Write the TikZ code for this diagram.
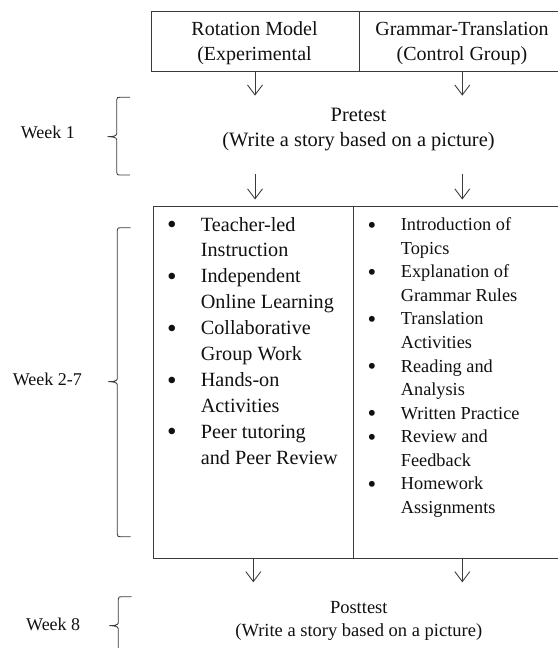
\documentclass[tikz,border=0pt]{standalone}
\usepackage{fontspec}
\setmainfont{Liberation Serif}
\usetikzlibrary{arrows.meta,calc}

\definecolor{linegray}{HTML}{3A3A3A}
\definecolor{inkblack}{HTML}{111111}

\tikzset{
  frame/.style={draw=linegray, line width=0.85pt, rectangle, inner sep=0pt},
  flowarrow/.style={draw=linegray, line width=0.85pt,
    -{Straight Barb[length=10pt,width=15pt,line width=0.85pt]}},
  bracepath/.style={draw=linegray, line width=0.85pt, line join=round, line cap=round},
  txt/.style={text=inkblack, inner sep=0pt},
  headtext/.style={txt, anchor=base, font=\fontsize{20}{24.3}\selectfont},
  testtext/.style={txt, anchor=base, font=\fontsize{20.4}{25}\selectfont},
  posttext/.style={txt, anchor=base, font=\fontsize{18.5}{23.4}\selectfont},
  leftlist/.style={txt, anchor=base west, font=\fontsize{20.2}{25.9}\selectfont},
  rightlist/.style={txt, anchor=base west, font=\fontsize{18.3}{23.55}\selectfont},
  weektext/.style={txt, anchor=base west, font=\fontsize{18}{22}\selectfont},
}

% list bullet, a little heavier than the plain glyph
\newcommand\itemdot{\raisebox{-0.13em}{\scalebox{1.35}{•}}}

% curly brace: spine x, top y, tip y, bottom y
\newcommand\weekbrace[4]{%
  \draw[bracepath] (#1+13,#2) -- (#1+3,#2) .. controls (#1+0.6,#2) .. (#1,#2+2.6)
    -- (#1,#3-3) .. controls (#1,#3-0.6) and (#1-4,#3) .. (#1-9,#3)
    .. controls (#1-4,#3) and (#1,#3+0.6) .. (#1,#3+3)
    -- (#1,#4-2.6) .. controls (#1+0.6,#4) .. (#1+3,#4) -- (#1+13,#4);}

\begin{document}
\begin{tikzpicture}[x=1pt,y=-1pt]
  \fill[white] (0,0) rectangle (557,648);
  \useasboundingbox (0,0) rectangle (557,648);

  % group headings
  \node[frame, minimum width=208pt, minimum height=60pt] (exp) at (255,41) {};
  \node[frame, minimum width=208pt, minimum height=60pt] (ctl) at (463,41) {};
  \node[headtext] (exptxt) at (254.5,35.7)
    {\begin{tabular}[t]{@{}c@{}}Rotation Model\\(Experimental\end{tabular}};
  \node[headtext] (ctltxt) at (462,35.7)
    {\begin{tabular}[t]{@{}c@{}}Grammar-Translation\\(Control Group)\end{tabular}};

  % week 1
  \node[testtext] (pre) at (358.5,121.7)
    {\begin{tabular}[t]{@{}c@{}}Pretest\\(Write a story based on a picture)\end{tabular}};
  \node[weektext] (w1) at (20.7,138.3) {Week 1};
  \weekbrace{116.7}{97.3}{136.7}{175}

  % weeks 2-7
  \node[frame, minimum width=200.5pt, minimum height=352pt] (rotlist) at (253.25,382) {};
  \node[frame, minimum width=213.5pt, minimum height=352pt] (gtlist) at (460.25,382) {};
  \node[leftlist] (rotitems) at (167,231)
    {\begin{tabular}[t]{@{}p{33.7pt}@{}l@{}}
      \itemdot & Teacher-led\\
               & Instruction\\
      \itemdot & Independent\\
               & Online Learning\\
      \itemdot & Collaborative\\
               & Group Work\\
      \itemdot & Hands-on\\
               & Activities\\
      \itemdot & Peer tutoring\\
               & and Peer Review
     \end{tabular}};
  \node[rightlist] (gtitems) at (367.4,230.7)
    {\begin{tabular}[t]{@{}p{33.3pt}@{}l@{}}
      \itemdot & Introduction of\\
               & Topics\\
      \itemdot & Explanation of\\
               & Grammar Rules\\
      \itemdot & Translation\\
               & Activities\\
      \itemdot & Reading and\\
               & Analysis\\
      \itemdot & Written Practice\\
      \itemdot & Review and\\
               & Feedback\\
      \itemdot & Homework\\
               & Assignments
     \end{tabular}};
  \node[weektext] (w27) at (12.7,385.7) {Week 2-7};
  \weekbrace{117.3}{227.7}{381.7}{536.7}

  % week 8
  \node[posttext] (post) at (358.8,613.3)
    {\begin{tabular}[t]{@{}c@{}}Posttest\\(Write a story based on a picture)\end{tabular}};
  \node[weektext] (w8) at (26,630) {Week 8};
  \weekbrace{118.3}{596.7}{625.7}{664}

  % arrows
  \coordinate (a1) at (255,95.6);
  \coordinate (a2) at (462.3,95.6);
  \coordinate (b1s) at (255,174);
  \coordinate (b1) at (255,199.5);
  \coordinate (b2s) at (462.3,174);
  \coordinate (b2) at (462.3,199.5);
  \coordinate (c1) at (253.3,582.3);
  \coordinate (c2) at (462.3,582.3);
  \draw[flowarrow] (exp.south -| a1) -- (a1);
  \draw[flowarrow] (ctl.south -| a2) -- (a2);
  \draw[flowarrow] (b1s) -- (b1);
  \draw[flowarrow] (b2s) -- (b2);
  \draw[flowarrow] (rotlist.south -| c1) -- (c1);
  \draw[flowarrow] (gtlist.south -| c2) -- (c2);
\end{tikzpicture}
\end{document}
